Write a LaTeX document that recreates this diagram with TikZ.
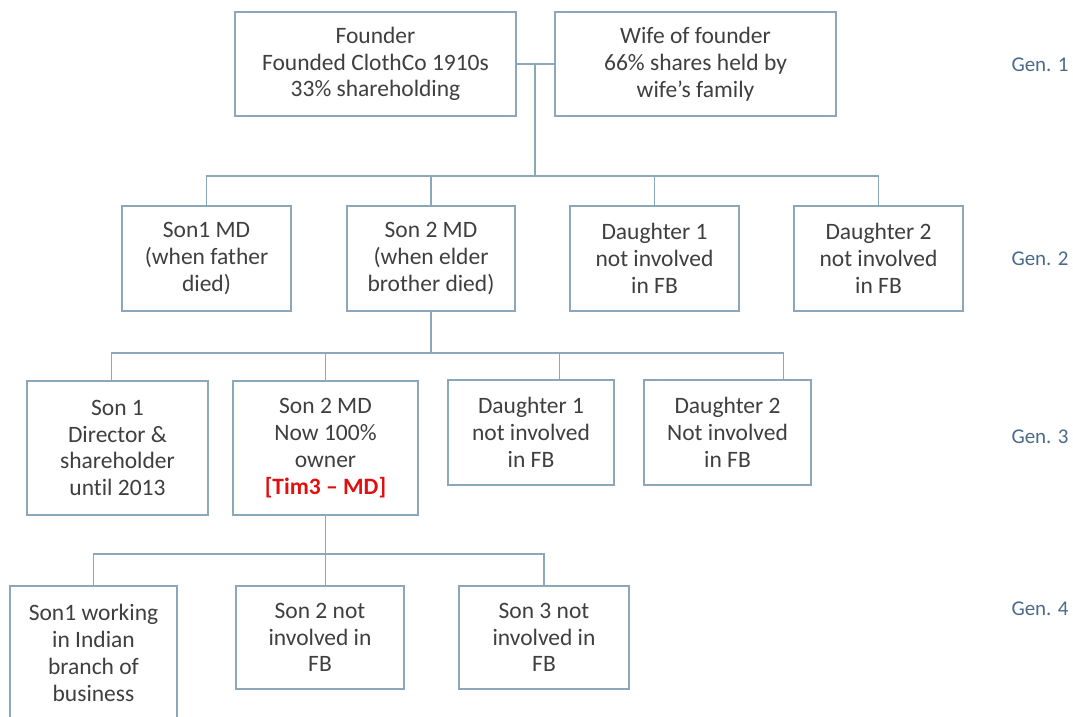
\documentclass[tikz,border=0pt]{standalone}
\usepackage{fontspec}
\setmainfont{Carlito}[RawFeature={-liga}]
\usetikzlibrary{calc}
\definecolor{boxline}{HTML}{8CA6BA}
\definecolor{txt}{HTML}{3F3F3F}
\definecolor{genblue}{HTML}{4A6A8A}
\definecolor{timred}{HTML}{E01010}
\begin{document}
\begin{tikzpicture}[x=1pt,y=-1pt,
  person/.style={draw=boxline, line width=1.3pt, fill=white, text=txt,
    align=center, inner sep=0pt, font=\fontsize{23.5}{26.8}\selectfont},
  link/.style={draw=boxline, line width=1.3pt},
  genlabel/.style={text=genblue, font=\fontsize{21}{24}\selectfont}]
\useasboundingbox (0,0) rectangle (1073,717);

% Generation 1
\node[person, minimum width=281pt, minimum height=104pt] (founder) at (375.5,64)
  {Founder\\Founded ClothCo 1910s\\33\% shareholding};
\node[person, minimum width=281pt, minimum height=104pt] (wife) at (695.5,64)
  {Wife of founder\\66\% shares held by\\wife’s family};

% Generation 2
\node[person, minimum width=169pt, minimum height=105pt] (son1) at (206.5,258.5)
  {Son1 MD\\(when father\\died)};
\node[person, minimum width=168pt, minimum height=105pt] (son2) at (431,258.5)
  {Son 2 MD\\(when elder\\brother died)};
\node[person, minimum width=169pt, minimum height=105pt] (dau1) at (654.5,258.5)
  {Daughter 1\\not involved\\in FB};
\node[person, minimum width=169pt, minimum height=105pt] (dau2) at (878.5,258.5)
  {Daughter 2\\not involved\\in FB};

% Generation 3
\node[person, minimum width=181pt, minimum height=134pt] (gson1) at (117.5,448)
  {Son 1\\Director \&\\shareholder\\until 2013};
\node[person, minimum width=185pt, minimum height=134pt] (gson2) at (325.5,448)
  {Son 2 MD\\Now 100\%\\owner\\{\color{timred}\bfseries [Tim3 – MD]}};
\node[person, minimum width=166pt, minimum height=105pt] (gdau1) at (531,432.5)
  {Daughter 1\\not involved\\in FB};
\node[person, minimum width=167pt, minimum height=105pt] (gdau2) at (727.5,432.5)
  {Daughter 2\\Not involved\\in FB};

% Generation 4
\node[person, minimum width=167pt, minimum height=134pt] (ggson1) at (93.5,653)
  {Son1 working\\in Indian\\branch of\\business};
\node[person, minimum width=168pt, minimum height=103pt] (ggson2) at (320,637.5)
  {Son 2 not\\involved in\\FB};
\node[person, minimum width=170pt, minimum height=103pt] (ggson3) at (544,637.5)
  {Son 3 not\\involved in\\FB};

% Generation labels
\node[genlabel] (gen1) at (1040,65) {Gen. 1};
\node[genlabel] (gen2) at (1040,259) {Gen. 2};
\node[genlabel] (gen3) at (1040,437) {Gen. 3};
\node[genlabel] (gen4) at (1040,609) {Gen. 4};

% Couple link and bus to generation 2
\coordinate (marry) at (535,64);
\coordinate (bus1) at (535,176);
\draw[link] (founder.east) -- (wife.west);
\draw[link] (marry) -- (bus1);
\draw[link] (son1.north) |- (bus1) -| (dau2.north);
\draw[link] (son2.north) -- (son2.north |- bus1);
\draw[link] (dau1.north) -- (dau1.north |- bus1);

% Bus to generation 3
\coordinate (bus2) at (431,353);
\coordinate (gson1top) at ([xshift=85pt]gson1.north west);
\coordinate (gdau1top) at ([xshift=112pt]gdau1.north west);
\coordinate (gdau2top) at ([xshift=140pt]gdau2.north west);
\draw[link] (son2.south) -- (bus2);
\draw[link] (gson1top) |- (bus2) -| (gdau2top);
\draw[link] (gson2.north) -- (gson2.north |- bus2);
\draw[link] (gdau1top) -- (gdau1top |- bus2);

% Bus to generation 4
\coordinate (bus3) at (325.5,554);
\draw[link] (gson2.south) -- (gson2.south |- ggson2.north);
\draw[link] (ggson1.north) |- (bus3) -| (ggson3.north);
\end{tikzpicture}
\end{document}
